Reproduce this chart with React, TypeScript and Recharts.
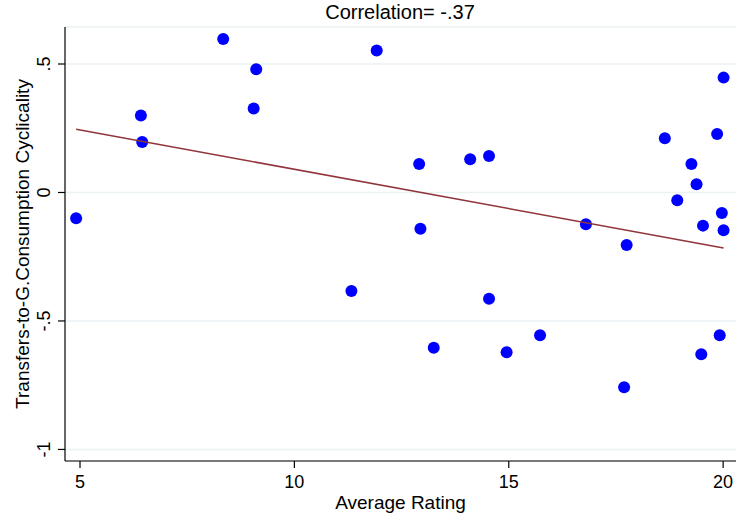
import React from "react";
import { ScatterChart, Scatter, XAxis, YAxis, CartesianGrid } from "recharts";

// values
const ratings = [
    4.91, 6.42, 6.45, 8.34, 9.11, 9.05, 11.92, 11.33, 12.91, 12.94,
    13.25, 14.1, 14.54, 14.54, 14.95, 15.73, 16.8, 17.75, 17.69, 18.64,
    18.93, 19.26, 19.38, 19.53, 19.49, 19.86, 20.01, 19.97, 20.01, 19.92,
];
const cyclicality = [
    -0.1, 0.3, 0.196, 0.597, 0.48, 0.327, 0.553, -0.383, 0.111, -0.141,
    -0.604, 0.129, 0.142, -0.414, -0.622, -0.556, -0.124, -0.204, -0.758, 0.211,
    -0.03, 0.111, 0.032, -0.129, -0.63, 0.228, 0.447, -0.08, -0.147, -0.556,
];
const fitX = [4.91, 20.01];
const fitY = [0.246, -0.216];

const xTicks = [5, 10, 15, 20];
const yTicks = [-1, -0.5, 0, 0.5];
const yTickLabels = ["-1", "-.5", "0", ".5"];

const title = "Correlation= -.37";
const xTitle = "Average Rating";
const yTitle = "Transfers-to-G.Consumption Cyclicality";

const FONT = "'Liberation Sans', Arial, Helvetica, sans-serif";

const points = ratings.map((r, i) => ({ x: r, y: cyclicality[i] }));
const fitLine = fitX.map((x, i) => ({ x, y: fitY[i] }));

function XTick(props: any) {
    const { x, y, payload } = props;
    return (
        <text x={x} y={y} dy={18} textAnchor="middle" fontSize={18} fill="#000" fontFamily={FONT}>
            {payload.value}
        </text>
    );
}

function YTick(props: any) {
    const { x, y, payload } = props;
    const idx = yTicks.indexOf(payload.value);
    return (
        <text
            x={x}
            y={y}
            transform={`rotate(-90, ${x}, ${y})`}
            textAnchor="middle"
            fontSize={18}
            fill="#000"
            fontFamily={FONT}
        >
            {idx >= 0 ? yTickLabels[idx] : payload.value}
        </text>
    );
}

export default function App() {
    return (
        <div style={{ position: "absolute", left: 0, top: 0, width: 737, height: 518, background: "#fff" }}>
            <ScatterChart width={737} height={518} margin={{ top: 27, right: 1, left: 0, bottom: 0 }}>
                <CartesianGrid vertical={false} stroke="#eaf2f3" strokeWidth={1.5} />
                <XAxis
                    type="number"
                    dataKey="x"
                    domain={[4.65, 20.3]}
                    ticks={xTicks}
                    allowDataOverflow
                    height={57}
                    tickSize={7}
                    tickMargin={2}
                    axisLine={{ stroke: "#000", strokeWidth: 1.2 }}
                    tickLine={{ stroke: "#000", strokeWidth: 1.2 }}
                    tick={<XTick />}
                    label={{
                        value: xTitle,
                        position: "insideBottom",
                        offset: 9,
                        style: { fontSize: 19, fill: "#000", fontFamily: FONT, textAnchor: "middle" },
                    }}
                />
                <YAxis
                    type="number"
                    dataKey="y"
                    domain={[-1.045, 0.644]}
                    ticks={yTicks}
                    allowDataOverflow
                    width={65}
                    tickSize={7}
                    tickMargin={8}
                    axisLine={{ stroke: "#000", strokeWidth: 1.2 }}
                    tickLine={{ stroke: "#000", strokeWidth: 1.2 }}
                    tick={<YTick />}
                    label={{
                        value: yTitle,
                        angle: -90,
                        position: "insideLeft",
                        offset: 22,
                        style: { fontSize: 19, fill: "#000", fontFamily: FONT, textAnchor: "middle" },
                    }}
                />
                <Scatter
                    data={points}
                    fill="#0000ff"
                    isAnimationActive={false}
                    shape={(p: any) => <circle cx={p.cx} cy={p.cy} r={6} fill="#0000ff" />}
                />
                <Scatter
                    data={fitLine}
                    line={{ stroke: "#90353b", strokeWidth: 1.5 }}
                    lineType="joint"
                    isAnimationActive={false}
                    shape={() => <g />}
                />
            </ScatterChart>
            <svg
                width={737}
                height={30}
                style={{ position: "absolute", left: 0, top: 0, pointerEvents: "none" }}
            >
                <text x={400} y={19} textAnchor="middle" fontSize={20} fill="#000" fontFamily={FONT}>
                    {title}
                </text>
            </svg>
        </div>
    );
}
